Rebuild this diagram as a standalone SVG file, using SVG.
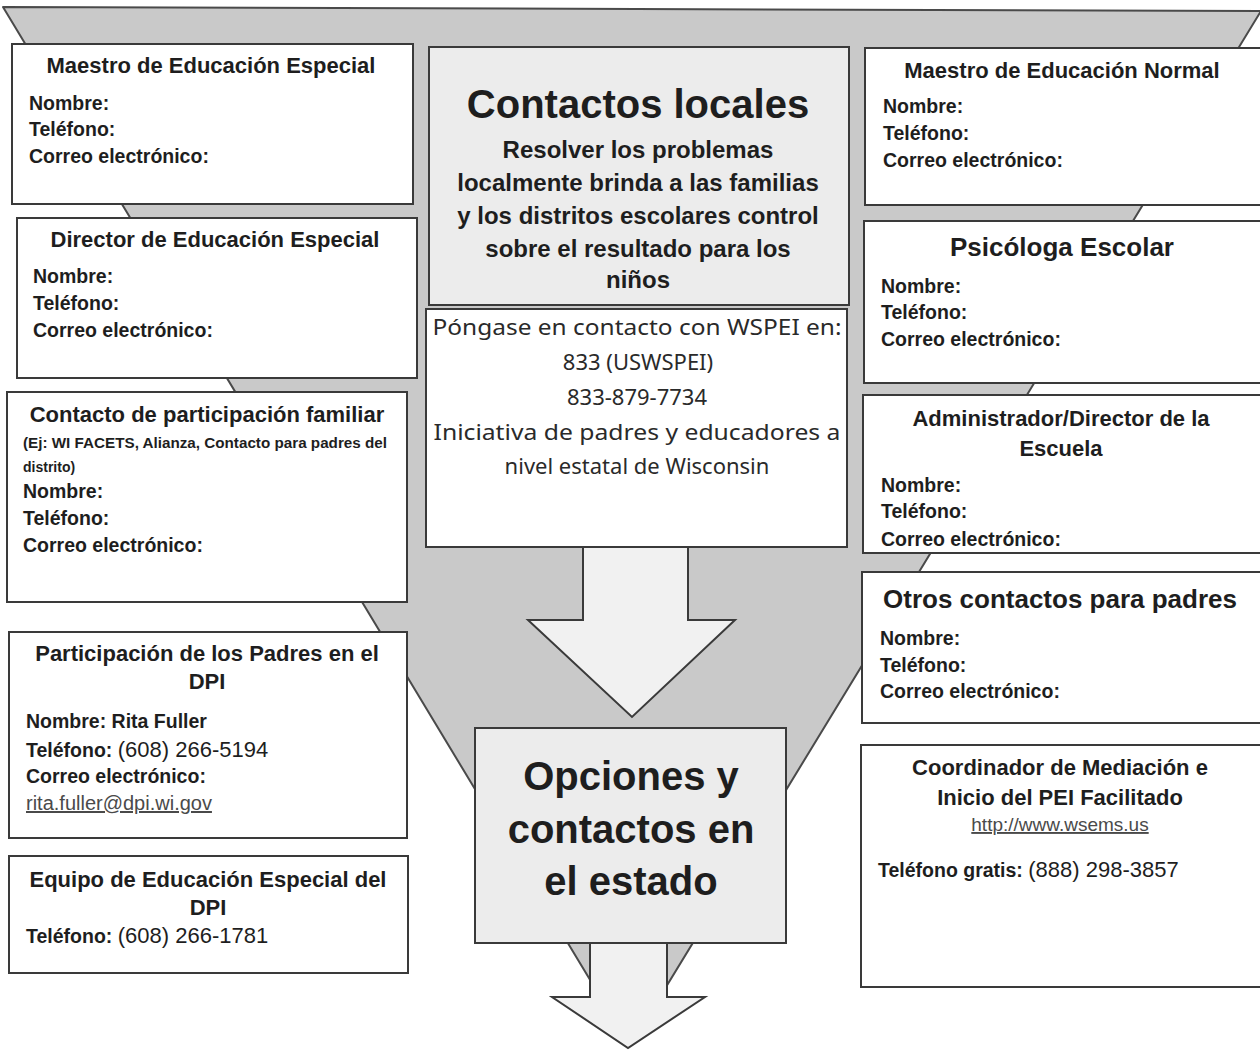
<svg xmlns="http://www.w3.org/2000/svg" width="1260" height="1050" viewBox="0 0 1260 1050">
<style>
.funnel{fill:#c9c9c9;stroke:#4a4a4a;stroke-width:2;stroke-linejoin:round}
.arrow{fill:#f1f1f1;stroke:#3a3a3a;stroke-width:2;stroke-linejoin:miter}
.box{fill:#ffffff;stroke:#3a3a3a;stroke-width:2}
.gbox{fill:#ececec;stroke:#3a3a3a;stroke-width:2}
text{font-family:"Liberation Sans",Arial,sans-serif;fill:#1e1e1e}
.t{font-size:22px;font-weight:bold;text-anchor:middle}
.tl{font-size:26px;font-weight:bold;text-anchor:middle}
.l{font-size:19.5px;font-weight:bold}
.n{font-weight:normal;font-size:22px}
.sub{font-size:14px;font-weight:bold}
.big{font-size:40px;font-weight:bold;text-anchor:middle}
.mid{font-size:24px;font-weight:bold;text-anchor:middle}
.comic{font-family:"Noto Sans","DejaVu Sans",sans-serif;font-size:22px;text-anchor:middle;fill:#2a2a2a}
.link{font-weight:normal;fill:#4a4a4a;text-decoration:underline}
</style>
<g id="funnel">
<polygon class="funnel" points="3,7 1261,11 630,1046"/>
</g>
<g id="connectors">
<polygon class="arrow" points="583,547 688,547 688,620 735,620 632,717 528,620 583,620"/>
<polygon class="arrow" points="590,943 667,943 667,997 705,997 628,1048 552,997 590,997"/>
</g>
<g id="contactos-locales">
<rect class="gbox" x="429" y="47" width="420" height="258"/>
<text class="big" x="638" y="118">Contactos locales</text>
<text class="mid" x="638" y="158">Resolver los problemas</text>
<text class="mid" x="638" y="191">localmente brinda a las familias</text>
<text class="mid" x="638" y="224">y los distritos escolares control</text>
<text class="mid" x="638" y="257">sobre el resultado para los</text>
<text class="mid" x="638" y="288">niños</text>
</g>
<g id="wspei">
<rect class="box" x="426" y="309" width="421" height="238"/>
<text class="comic" x="637" y="335" textLength="409" lengthAdjust="spacingAndGlyphs">Póngase en contacto con WSPEI en:</text>
<text class="comic" x="638" y="370">833 (USWSPEI)</text>
<text class="comic" x="637" y="405">833-879-7734</text>
<text class="comic" x="637" y="440" textLength="407" lengthAdjust="spacingAndGlyphs">Iniciativa de padres y educadores a</text>
<text class="comic" x="637" y="474">nivel estatal de Wisconsin</text>
</g>
<g id="opciones">
<rect class="gbox" x="475" y="728" width="311" height="215"/>
<text class="big" x="631" y="790">Opciones y</text>
<text class="big" x="631" y="843">contactos en</text>
<text class="big" x="631" y="895">el estado</text>
</g>
<g id="maestro-especial">
<rect class="box" x="12" y="44" width="401" height="160"/>
<text class="t" x="211" y="73">Maestro de Educación Especial</text>
<text class="l" x="29" y="110">Nombre:</text>
<text class="l" x="29" y="136">Teléfono:</text>
<text class="l" x="29" y="163">Correo electrónico:</text>
</g>
<g id="director-especial">
<rect class="box" x="17" y="218" width="400" height="160"/>
<text class="t" x="215" y="247">Director de Educación Especial</text>
<text class="l" x="33" y="283">Nombre:</text>
<text class="l" x="33" y="310">Teléfono:</text>
<text class="l" x="33" y="337">Correo electrónico:</text>
</g>
<g id="participacion-familiar">
<rect class="box" x="7" y="392" width="400" height="210"/>
<text class="t" x="207" y="422">Contacto de participación familiar</text>
<text class="sub" x="23" y="448" textLength="364" lengthAdjust="spacingAndGlyphs">(Ej: WI FACETS, Alianza, Contacto para padres del</text>
<text class="sub" x="23" y="472">distrito)</text>
<text class="l" x="23" y="498">Nombre:</text>
<text class="l" x="23" y="525">Teléfono:</text>
<text class="l" x="23" y="552">Correo electrónico:</text>
</g>
<g id="padres-dpi">
<rect class="box" x="9" y="632" width="398" height="206"/>
<text class="t" x="207" y="661">Participación de los Padres en el</text>
<text class="t" x="207" y="689">DPI</text>
<text class="l" x="26" y="728">Nombre: Rita Fuller</text>
<text class="l" x="26" y="757">Teléfono: <tspan class="n">(608) 266-5194</tspan></text>
<text class="l" x="26" y="783">Correo electrónico:</text>
<text class="l link" x="26" y="810" style="font-size:20px">rita.fuller@dpi.wi.gov</text>
</g>
<g id="equipo-dpi">
<rect class="box" x="9" y="856" width="399" height="117"/>
<text class="t" x="208" y="887">Equipo de Educación Especial del</text>
<text class="t" x="208" y="915">DPI</text>
<text class="l" x="26" y="943">Teléfono: <tspan class="n">(608) 266-1781</tspan></text>
</g>
<g id="maestro-normal">
<rect class="box" x="865" y="48" width="397" height="157"/>
<text class="t" x="1062" y="78">Maestro de Educación Normal</text>
<text class="l" x="883" y="113">Nombre:</text>
<text class="l" x="883" y="140">Teléfono:</text>
<text class="l" x="883" y="167">Correo electrónico:</text>
</g>
<g id="psicologa">
<rect class="box" x="864" y="221" width="398" height="162"/>
<text class="tl" x="1062" y="256">Psicóloga Escolar</text>
<text class="l" x="881" y="293">Nombre:</text>
<text class="l" x="881" y="319">Teléfono:</text>
<text class="l" x="881" y="346">Correo electrónico:</text>
</g>
<g id="administrador">
<rect class="box" x="863" y="395" width="399" height="158"/>
<text class="t" x="1061" y="426">Administrador/Director de la</text>
<text class="t" x="1061" y="456">Escuela</text>
<text class="l" x="881" y="492">Nombre:</text>
<text class="l" x="881" y="518">Teléfono:</text>
<text class="l" x="881" y="546">Correo electrónico:</text>
</g>
<g id="otros">
<rect class="box" x="862" y="572" width="400" height="151"/>
<text class="tl" x="1060" y="608">Otros contactos para padres</text>
<text class="l" x="880" y="645">Nombre:</text>
<text class="l" x="880" y="672">Teléfono:</text>
<text class="l" x="880" y="698">Correo electrónico:</text>
</g>
<g id="mediacion">
<rect class="box" x="861" y="745" width="401" height="242"/>
<text class="t" x="1060" y="775">Coordinador de Mediación e</text>
<text class="t" x="1060" y="805">Inicio del PEI Facilitado</text>
<text class="link" x="1060" y="831" style="font-size:19px;text-anchor:middle">http://www.wsems.us</text>
<text class="l" x="878" y="877">Teléfono gratis: <tspan class="n">(888) 298-3857</tspan></text>
</g>
</svg>
